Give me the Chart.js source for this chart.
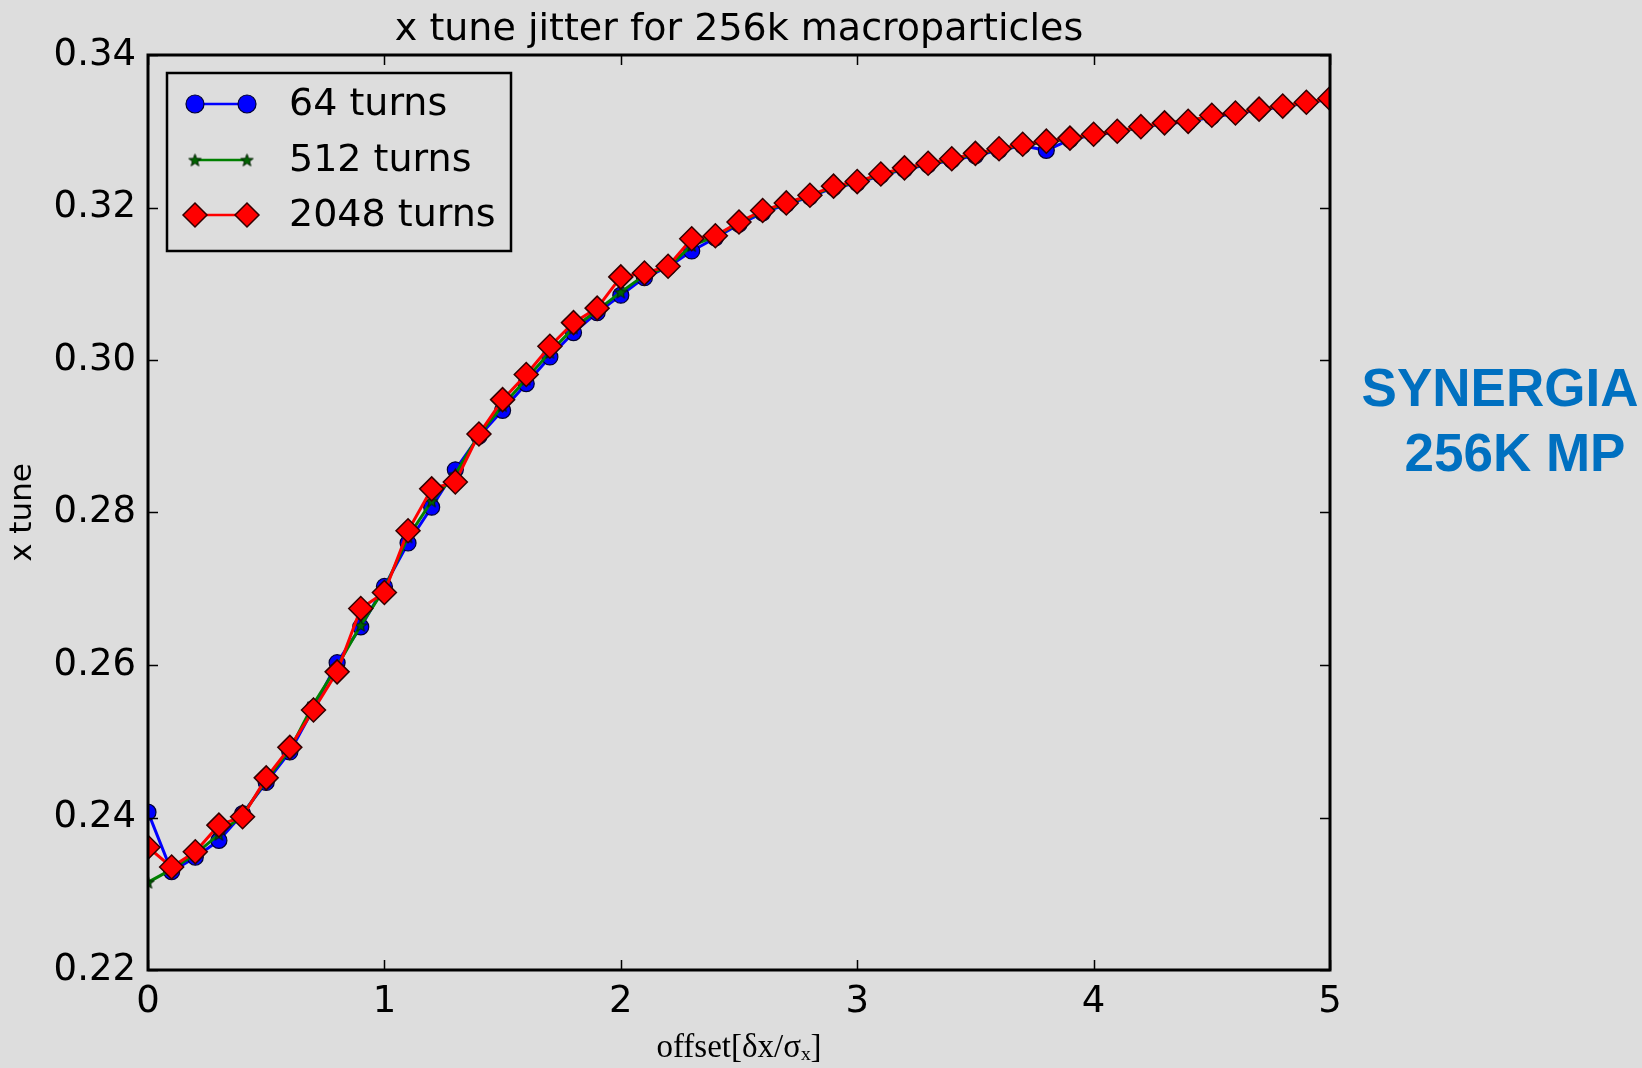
<!DOCTYPE html>
<html>
<head>
<meta charset="utf-8">
<script src="https://cdn.jsdelivr.net/npm/chart.js@4/dist/chart.umd.min.js"></script>
<style>
  html, body { margin: 0; padding: 0; background: #dddddd; }
  #wrap { width: 1642px; height: 1068px; position: relative; }
</style>
</head>
<body>
<div id="wrap"><canvas id="c" width="1642" height="1068"></canvas></div>
<script>
// ---- data ----
const offsets = [0.0,0.1,0.2,0.3,0.4,0.5,0.6,0.7,0.8,0.9,1.0,1.1,1.2,1.3,1.4,1.5,1.6,1.7,1.8,1.9,2.0,2.1,2.2,2.3,2.4,2.5,2.6,2.7,2.8,2.9,3.0,3.1,3.2,3.3,3.4,3.5,3.6,3.7,3.8,3.9,4.0,4.1,4.2,4.3,4.4,4.5,4.6,4.7,4.8,4.9,5.0];
const tune64 = [0.2407,0.2329,0.2348,0.2370,0.2405,0.2446,0.2486,0.2543,0.2603,0.2650,0.2703,0.2760,0.2807,0.2856,0.2900,0.2934,0.2969,0.3004,0.3036,0.3062,0.3085,0.3108,0.3122,0.3143,0.3160,0.3178,0.3193,0.3204,0.3214,0.3226,0.3232,0.3242,0.3250,0.3256,0.3262,0.3268,0.3275,0.3281,0.3275,0.3289,0.3295,0.3299,0.3305,0.3310,0.3312,0.3319,0.3323,0.3328,0.3332,0.3337,0.3342];
const tune512 = [0.2315,0.2332,0.2352,0.2378,0.2403,0.2449,0.2489,0.2549,0.2598,0.2652,0.2700,0.2768,0.2815,0.2850,0.2902,0.2940,0.2975,0.3010,0.3042,0.3065,0.3089,0.3111,0.3122,0.3150,0.3162,0.3180,0.3195,0.3205,0.3215,0.3227,0.3233,0.3243,0.3251,0.3257,0.3263,0.3270,0.3276,0.3282,0.3286,0.3290,0.3296,0.3300,0.3305,0.3311,0.3313,0.3320,0.3324,0.3329,0.3333,0.3338,0.3343];
const tune2048 = [0.2361,0.2335,0.2355,0.2390,0.2401,0.2452,0.2492,0.2541,0.2591,0.2674,0.2695,0.2776,0.2831,0.2840,0.2903,0.2948,0.2981,0.3018,0.3049,0.3068,0.3109,0.3114,0.3123,0.3159,0.3163,0.3181,0.3196,0.3206,0.3216,0.3228,0.3234,0.3244,0.3252,0.3258,0.3264,0.3271,0.3277,0.3283,0.3287,0.3291,0.3296,0.3300,0.3306,0.3311,0.3313,0.3321,0.3324,0.3329,0.3333,0.3338,0.3343];
const seriesLabels = ['64 turns', '512 turns', '2048 turns'];
const xTicks = [0, 1, 2, 3, 4, 5];
const yTicks = [0.22, 0.24, 0.26, 0.28, 0.30, 0.32, 0.34];
const titleText = 'x tune jitter for 256k macroparticles';
const xTitle = 'offset[δx/σₓ]';
const yTitle = 'x tune';
const sideNote = ['SYNERGIA', '256K MP'];

const BG = '#dddddd';
const FONT = '"DejaVu Sans", sans-serif';

function pts(ys) { return offsets.map((x, i) => ({ x: x, y: ys[i] })); }

// filled 5-point star image for the 512-turn markers
function makeStar(size) {
  const c = document.createElement('canvas');
  c.width = size; c.height = size;
  const g = c.getContext('2d');
  const cx = size / 2, cy = size / 2 + 0.6, R = size / 2 - 1, r = R * 0.42;
  g.beginPath();
  for (let i = 0; i < 10; i++) {
    const a = -Math.PI / 2 + i * Math.PI / 5;
    const rr = (i % 2 === 0) ? R : r;
    const px = cx + rr * Math.cos(a), py = cy + rr * Math.sin(a);
    if (i === 0) g.moveTo(px, py); else g.lineTo(px, py);
  }
  g.closePath();
  g.fillStyle = '#006400';
  g.fill();
  g.lineWidth = 1;
  g.strokeStyle = '#002000';
  g.stroke();
  return c;
}
const starImg = makeStar(15);

const bgPlugin = {
  id: 'bg',
  beforeDraw(chart) {
    const ctx = chart.ctx;
    ctx.save();
    ctx.fillStyle = BG;
    ctx.fillRect(0, 0, chart.width, chart.height);
    ctx.restore();
  }
};

const framePlugin = {
  id: 'frame',
  afterDraw(chart) {
    const ctx = chart.ctx;
    const a = chart.chartArea;
    const xs = chart.scales.x, ys = chart.scales.y;
    ctx.save();
    // inward ticks
    ctx.strokeStyle = '#000';
    ctx.lineWidth = 1.5;
    ctx.beginPath();
    xTicks.forEach(v => {
      const px = Math.round(xs.getPixelForValue(v)) + 0.5;
      ctx.moveTo(px, a.bottom); ctx.lineTo(px, a.bottom - 10);
      ctx.moveTo(px, a.top); ctx.lineTo(px, a.top + 10);
    });
    yTicks.forEach(v => {
      const py = Math.round(ys.getPixelForValue(v)) + 0.5;
      ctx.moveTo(a.left, py); ctx.lineTo(a.left + 10, py);
      ctx.moveTo(a.right, py); ctx.lineTo(a.right - 10, py);
    });
    ctx.stroke();
    // frame
    ctx.lineWidth = 3;
    ctx.strokeRect(a.left, a.top, a.right - a.left, a.bottom - a.top);

    // title
    ctx.fillStyle = '#000';
    ctx.font = '38px ' + FONT;
    ctx.textAlign = 'center';
    ctx.textBaseline = 'alphabetic';
    ctx.fillText(titleText, (a.left + a.right) / 2, 40);

    // legend
    const lx = 167, ly = 73, lw = 344, lh = 178;
    ctx.fillStyle = BG;
    ctx.fillRect(lx, ly, lw, lh);
    ctx.lineWidth = 2.5;
    ctx.strokeStyle = '#000';
    ctx.strokeRect(lx, ly, lw, lh);
    const rows = [104, 160, 215];
    chart.data.datasets.forEach((ds, i) => {
      const y = rows[i];
      ctx.lineWidth = 2.5;
      ctx.strokeStyle = ds.borderColor;
      ctx.beginPath();
      ctx.moveTo(195, y); ctx.lineTo(247, y);
      ctx.stroke();
      [195, 247].forEach(px => {
        if (ds.pointStyle === starImg) {
          ctx.drawImage(starImg, px - starImg.width / 2, y - starImg.height / 2);
        } else {
          ctx.fillStyle = ds.pointBackgroundColor;
          ctx.strokeStyle = ds.pointBorderColor;
          ctx.lineWidth = ds.pointBorderWidth;
          Chart.helpers.drawPoint(ctx, {
            pointStyle: ds.pointStyle,
            radius: ds.pointRadius + (ds.pointStyle === 'circle' ? 1 : 0),
            rotation: 0,
            borderWidth: ds.pointBorderWidth
          }, px, y);
        }
      });
      ctx.fillStyle = '#000';
      ctx.font = '38px ' + FONT;
      ctx.textAlign = 'left';
      ctx.textBaseline = 'middle';
      ctx.fillText(ds.label, 289, y + 1);
    });

    // side annotation
    ctx.fillStyle = '#0070C0';
    ctx.font = 'bold 53px "Liberation Sans", Arial, sans-serif';
    ctx.textAlign = 'center';
    ctx.textBaseline = 'alphabetic';
    ctx.fillText(sideNote[0], 1500, 406);
    ctx.fillText(sideNote[1], 1515, 471);
    ctx.restore();
  }
};

const chart = new Chart(document.getElementById('c'), {
  type: 'line',
  data: {
    datasets: [
      {
        label: seriesLabels[0], data: pts(tune64), order: 3,
        borderColor: '#0000ff', backgroundColor: '#0000ff', borderWidth: 3,
        pointStyle: 'circle', pointRadius: 8, pointBackgroundColor: '#0000ff',
        pointBorderColor: '#000033', pointBorderWidth: 1.2
      },
      {
        label: seriesLabels[1], data: pts(tune512), order: 2,
        borderColor: '#008000', backgroundColor: '#008000', borderWidth: 3,
        pointStyle: starImg, pointRadius: 7, pointBackgroundColor: '#008000',
        pointBorderColor: '#002000', pointBorderWidth: 1
      },
      {
        label: seriesLabels[2], data: pts(tune2048), order: 1,
        borderColor: '#ff0000', backgroundColor: '#ff0000', borderWidth: 3,
        pointStyle: 'rectRot', pointRadius: 12, pointBackgroundColor: '#ff0000',
        pointBorderColor: '#330000', pointBorderWidth: 1.5
      }
    ]
  },
  options: {
    responsive: false,
    animation: false,
    devicePixelRatio: 1,
    layout: { padding: { top: 55, right: 312, left: 0, bottom: 0 } },
    elements: { line: { tension: 0 } },
    datasets: { line: { clip: 0 } },
    plugins: {
      legend: { display: false },
      title: { display: false },
      tooltip: { enabled: false }
    },
    scales: {
      x: {
        type: 'linear', min: 0, max: 5,
        afterFit(s) { s.height = 98; },
        afterBuildTicks(s) { s.ticks = xTicks.map(v => ({ value: v })); },
        grid: { display: false, drawTicks: false },
        border: { display: false },
        ticks: { color: '#000', font: { family: FONT, size: 37 }, padding: 10, maxRotation: 0,
                 callback: v => String(v) },
        title: { display: true, text: xTitle, color: '#000',
                 font: { family: '"Liberation Serif", "DejaVu Serif", serif', size: 33 },
                 padding: { top: 0, bottom: 0 } }
      },
      y: {
        type: 'linear', min: 0.22, max: 0.34,
        afterFit(s) { s.width = 148; },
        afterBuildTicks(s) { s.ticks = yTicks.map(v => ({ value: v })); },
        grid: { display: false, drawTicks: false },
        border: { display: false },
        ticks: { color: '#000', font: { family: FONT, size: 37 }, padding: 12,
                 callback: v => Number(v).toFixed(2) },
        title: { display: true, text: yTitle, color: '#000',
                 font: { family: 'DejaVu Sans', size: 31 }, padding: { top: 4, bottom: 0 } }
      }
    }
  },
  plugins: [bgPlugin, framePlugin]
});
</script>
</body>
</html>
